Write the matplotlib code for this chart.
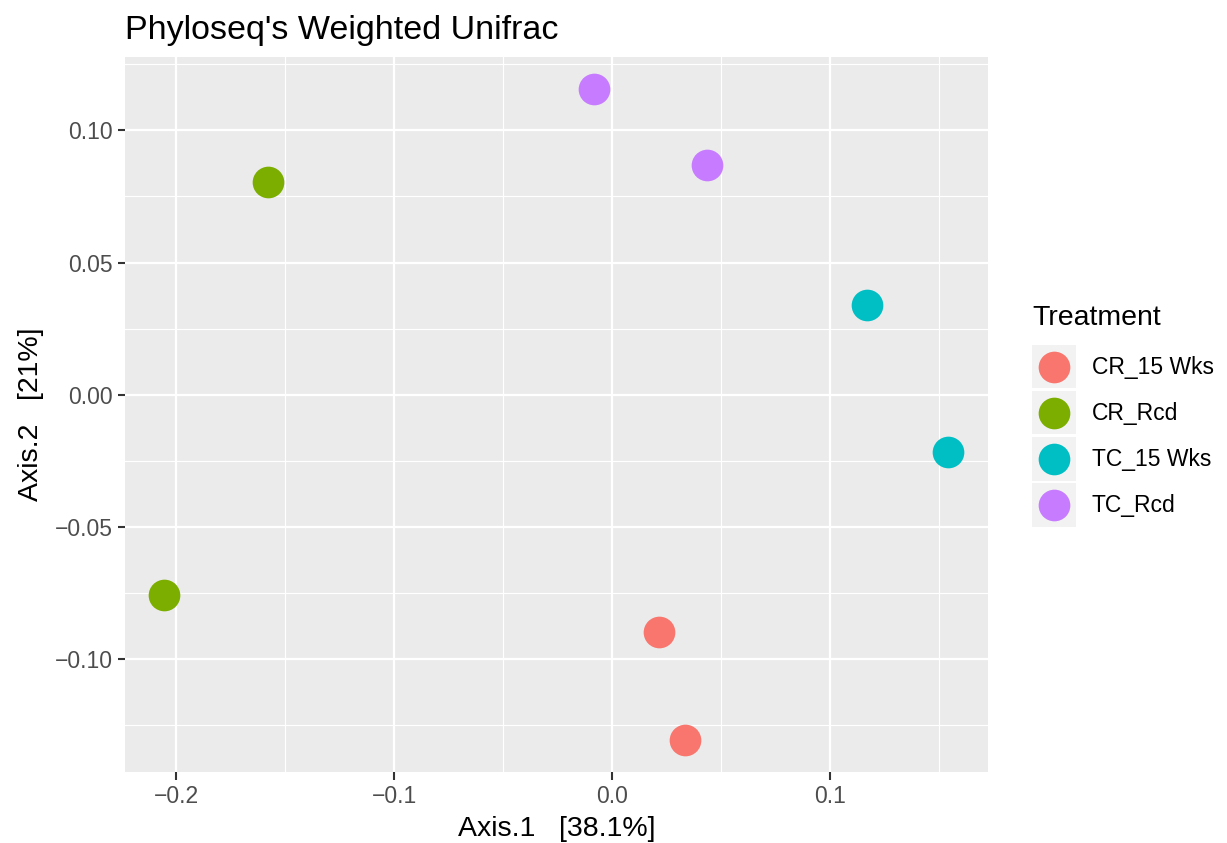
import numpy as np
import matplotlib.pyplot as plt
from matplotlib.patches import Rectangle

plt.rcParams['font.family'] = ['Liberation Sans', 'DejaVu Sans']

# data
treatments = ['CR_15 Wks', 'CR_Rcd', 'TC_15 Wks', 'TC_Rcd']
colors = ['#F8766D', '#7CAE00', '#00BFC4', '#C77CFF']
axis1 = {
    'CR_15 Wks': [0.0214, 0.0336],
    'CR_Rcd': [-0.1577, -0.2055],
    'TC_15 Wks': [0.1167, 0.1543],
    'TC_Rcd': [-0.0083, 0.0433],
}
axis2 = {
    'CR_15 Wks': [-0.0897, -0.1304],
    'CR_Rcd': [0.0805, -0.0757],
    'TC_15 Wks': [0.0340, -0.0215],
    'TC_Rcd': [0.1155, 0.0869],
}
xticks = [-0.2, -0.1, 0.0, 0.1]
yticks = [-0.10, -0.05, 0.00, 0.05, 0.10]

W, H = 1227, 843
fig = plt.figure(figsize=(W / 100, H / 100), dpi=100)
ax = fig.add_axes([125 / W, 1 - 772.3 / H, (987.7 - 125) / W, (772.3 - 56.7) / H])
ax.set_facecolor('#EBEBEB')

for t, c in zip(treatments, colors):
    ax.scatter(axis1[t], axis2[t], s=520, color=c, linewidths=0, zorder=3)

# ggplot style 5% expansion
allx = np.concatenate([axis1[t] for t in treatments])
ally = np.concatenate([axis2[t] for t in treatments])
dx = 0.05 * (allx.max() - allx.min())
dy = 0.05 * (ally.max() - ally.min())
ax.set_xlim(allx.min() - dx, allx.max() + dx)
ax.set_ylim(ally.min() - dy, ally.max() + dy)

ax.set_xticks(xticks)
ax.set_xticklabels(['\u22120.2', '\u22120.1', '0.0', '0.1'])
ax.set_yticks(yticks)
ax.set_yticklabels(['\u22120.10', '\u22120.05', '0.00', '0.05', '0.10'])
ax.set_xticks([-0.15, -0.05, 0.05, 0.15], minor=True)
ax.set_yticks([-0.125, -0.075, -0.025, 0.025, 0.075, 0.125], minor=True)
ax.grid(which='major', color='white', linewidth=1.6)
ax.grid(which='minor', color='white', linewidth=0.8)
ax.set_axisbelow(True)
ax.tick_params(which='major', length=5.4, width=1.5, color='#333333',
               labelsize=16.5, labelcolor='#4D4D4D', pad=3.5)
ax.tick_params(which='minor', length=0)
for sp in ax.spines.values():
    sp.set_visible(False)

ax.set_xlabel('Axis.1   [38.1%]', fontsize=20.5, labelpad=6)
ax.set_ylabel('Axis.2   [21%]', fontsize=20.5, labelpad=8)
ax.set_title("Phyloseq's Weighted Unifrac", loc='left', fontsize=24.5, pad=13)

# legend drawn in pixel coordinates like ggplot's guide
lg = fig.add_axes([0, 0, 1, 1])
lg.set_xlim(0, W)
lg.set_ylim(H, 0)
lg.axis('off')
lg.text(1032, 318, 'Treatment', fontsize=20.5, va='center', ha='left')
for i, (t, c) in enumerate(zip(treatments, colors)):
    y0 = 345 + i * 46.1
    lg.add_patch(Rectangle((1032.3, y0), 43.3, 43.3, facecolor='#F2F2F2', edgecolor='none'))
    lg.scatter([1054], [y0 + 21.7], s=520, color=c, linewidths=0)
    lg.text(1091.5, y0 + 22.5, t, fontsize=16.5, va='center', ha='left')

fig.savefig('out.png', dpi=100)
